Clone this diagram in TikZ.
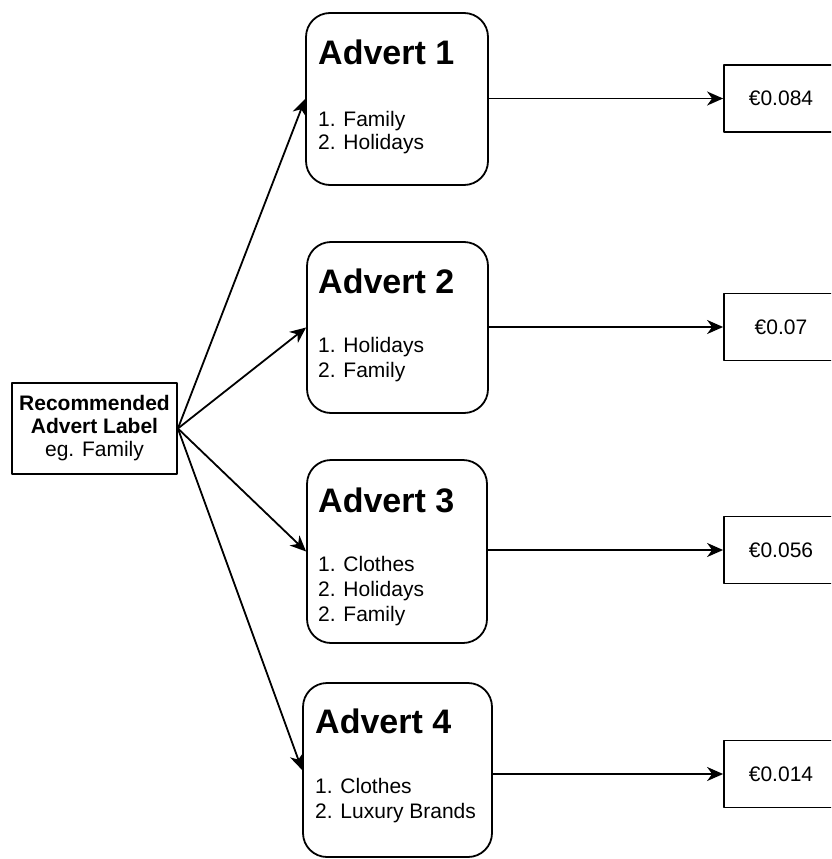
\documentclass[tikz,border=0pt]{standalone}
\usepackage{fontspec}
\setmainfont{Liberation Sans}
\usetikzlibrary{arrows.meta}

\begin{document}
\begin{tikzpicture}[
  x=1pt, y=-1pt,
  line join=round,
  boxline/.style={draw=black, line width=1.8pt},
  recbox/.style={boxline, minimum width=165pt, minimum height=91pt, inner sep=0pt,
    align=center, font=\fontsize{21}{23}\selectfont},
  advert/.style={boxline, rounded corners=24pt, inner sep=0pt},
  pricebox/.style={boxline, minimum width=114pt, minimum height=67pt, inner sep=0pt,
    font=\fontsize{21}{24}\selectfont},
  titletext/.style={anchor=base west, inner sep=0pt, font=\fontsize{34}{40}\selectfont\bfseries},
  itemtext/.style={anchor=base west, inner sep=0pt, font=\fontsize{21}{24}\selectfont},
  link/.style={line width=1.8pt, -{Stealth[length=16pt, width=14pt, inset=5pt]}}
]
\clip (0,0) rectangle (831,859);

% source label
\node[recbox] (rec) at (94.5,428.5) {{\bfseries Recommended}\\{\bfseries Advert Label}\\eg. Family};

% advert boxes
\node[advert, minimum width=182pt, minimum height=172pt] (ad1) at (397,99) {};
\node[advert, minimum width=181pt, minimum height=171pt] (ad2) at (397.5,327.5) {};
\node[advert, minimum width=180pt, minimum height=183pt] (ad3) at (397,551.5) {};
\node[advert, minimum width=189pt, minimum height=174pt] (ad4) at (397.5,770) {};

% advert contents
\node[titletext] (t1) at (318,65) {Advert 1};
\node[itemtext] (a1i1) at (318,126) {1. Family};
\node[itemtext] (a1i2) at (318,149) {2. Holidays};

\node[titletext] (t2) at (318,293) {Advert 2};
\node[itemtext] (a2i1) at (318,352) {1. Holidays};
\node[itemtext] (a2i2) at (318,377) {2. Family};

\node[titletext] (t3) at (318,512) {Advert 3};
\node[itemtext] (a3i1) at (318,571) {1. Clothes};
\node[itemtext] (a3i2) at (318,596) {2. Holidays};
\node[itemtext] (a3i3) at (318,621) {2. Family};

\node[titletext] (t4) at (315,733) {Advert 4};
\node[itemtext] (a4i1) at (315,793) {1. Clothes};
\node[itemtext] (a4i2) at (315,818) {2. Luxury Brands};

% prices
\node[pricebox] (p1) at (781,98.5) {€0.084};
\node[pricebox] (p2) at (781,327) {€0.07};
\node[pricebox] (p3) at (781,550) {€0.056};
\node[pricebox] (p4) at (781,774) {€0.014};

% connectors
\foreach \i in {1,...,4}{
  \draw[link] (rec.east) -- (ad\i.west);
  \draw[link] (ad\i.east |- p\i.west) -- (p\i.west);
}
\end{tikzpicture}
\end{document}
